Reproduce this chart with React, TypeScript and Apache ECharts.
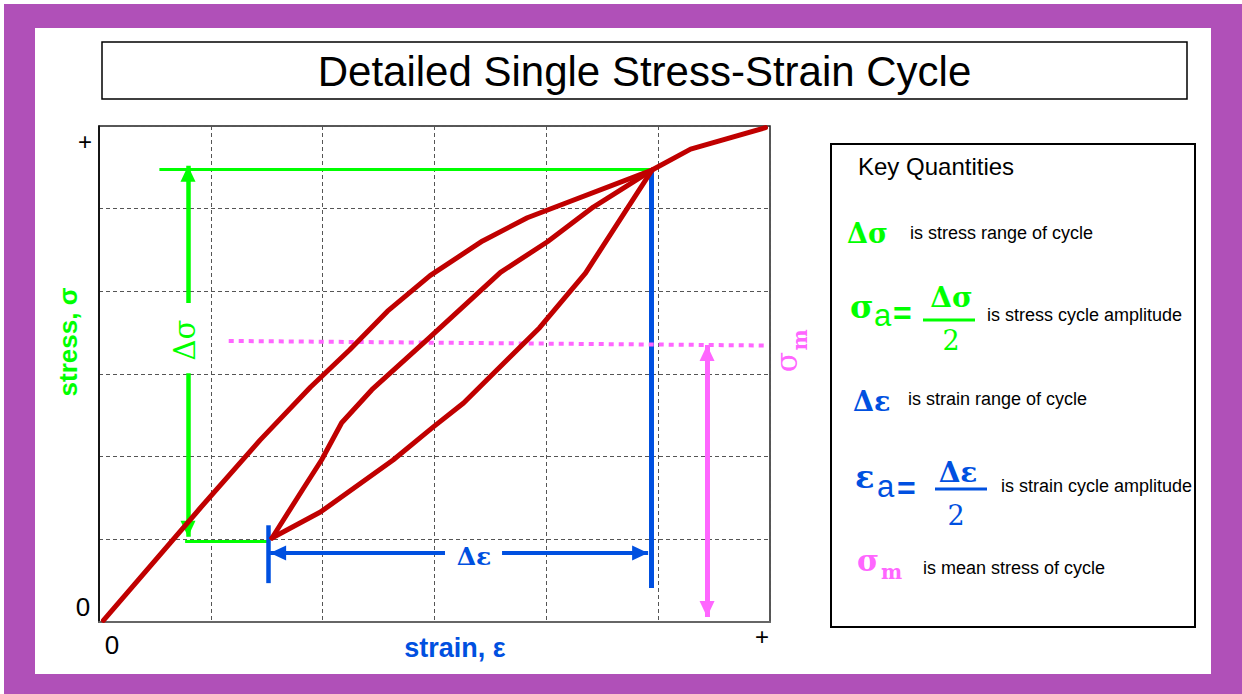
import React, { useEffect, useRef } from 'react';
import * as echarts from 'echarts';

const RED = '#C00000';
const GREEN = '#00FF00';
const BLUE = '#0050E0';
const PINK = '#FF66FF';
const PURPLE = '#B050B8';
const SANS = '"Liberation Sans", Arial, sans-serif';
const SERIF = '"DejaVu Serif", "Liberation Serif", serif';

const title = 'Detailed Single Stress-Strain Cycle';
const xAxisName = 'strain, ε';
const yAxisName = 'stress, σ';
const xTickLabels = ['0', '+'];
const yTickLabels = ['0', '+'];
const axisMin = 0;
const axisMax = 6;
const axisStep = 1;

// monotonic loading curve (strain, stress)
const loadingStrain = [0.04, 0.9, 1.44, 1.89, 2.24, 2.58, 2.96, 3.43, 3.83, 4.945, 5.29, 5.96];
const loadingStress = [0.02, 1.37, 2.2, 2.84, 3.29, 3.76, 4.19, 4.61, 4.89, 5.467, 5.72, 5.98];
// unloading branch: peak -> valley
const unloadStrain = [4.945, 4.35, 3.94, 3.26, 2.99, 2.63, 1.98, 1.547];
const unloadStress = [5.467, 4.22, 3.56, 2.65, 2.36, 1.96, 1.33, 1.016];
// reloading branch: valley -> peak
const reloadStrain = [1.547, 1.82, 1.99, 2.17, 2.44, 2.93, 3.59, 4.01, 4.42, 4.945];
const reloadStress = [1.016, 1.6, 1.96, 2.41, 2.81, 3.41, 4.23, 4.6, 5.02, 5.467];

// annotation geometry (data units)
const stressLevels = [5.475, 0.98]; // peak / valley stress guide lines
const stressGuideStrain = [0.54, 4.945, 0.77, 1.53];
const stressArrowStrain = 0.796;
const stressArrowTips = [5.52, 1.03];
const stressArrowGap = [3.86, 3.01];
const strainBarStrain = [1.51, 4.936];
const strainBarStress = [0.47, 1.17, 0.41, 5.467];
const strainArrowStress = 0.835;
const strainArrowTips = [1.53, 4.91];
const strainArrowGap = [3.094, 3.604];
const meanLineStrain = [1.16, 5.96];
const meanLineStress = [3.4, 3.345];
const meanArrowStrain = 5.437;
const meanArrowStress = [3.35, 0.06];

const keyTitle = 'Key Quantities';
const keyTexts = [
  'is stress range of cycle',
  'is stress cycle amplitude',
  'is strain range of cycle',
  'is strain cycle amplitude',
  'is mean stress of cycle',
];

function txt(text: string, x: number, y: number, font: string, fill: string, align = 'left', rotation = 0) {
  return {
    type: 'text', x, y, rotation, z: 100, silent: true,
    style: { text, font, fill, textAlign: align, textVerticalAlign: 'middle' },
  };
}

function seg(x1: number, y1: number, x2: number, y2: number, color: string, width: number, s1: string, s2: string, type: any = 'solid') {
  return [
    { coord: [x1, y1], symbol: s1, symbolSize: [15, 16], symbolOffset: [0, 8], lineStyle: { color, width, type, cap: 'butt' }, itemStyle: { color } },
    { coord: [x2, y2], symbol: s2, symbolSize: [15, 16], symbolOffset: [0, 8], itemStyle: { color } },
  ];
}

function curve(name: string, xs: number[], ys: number[]) {
  return {
    name, type: 'line', z: 5, silent: true, symbol: 'none',
    data: xs.map((x, i) => [x, ys[i]]),
    lineStyle: { color: RED, width: 5, join: 'round', cap: 'round' },
  };
}

export default function App() {
  const ref = useRef<HTMLDivElement>(null);
  useEffect(() => {
    if (!ref.current) return;
    const chart = echarts.init(ref.current, null, { renderer: 'svg' });
    const annotations = [
      seg(stressGuideStrain[0], stressLevels[0], stressGuideStrain[1], stressLevels[0], GREEN, 3, 'none', 'none'),
      seg(stressGuideStrain[2], stressLevels[1], stressGuideStrain[3], stressLevels[1], GREEN, 3, 'none', 'none'),
      seg(stressArrowStrain, stressArrowGap[0], stressArrowStrain, stressArrowTips[0], GREEN, 4.5, 'none', 'triangle'),
      seg(stressArrowStrain, stressArrowGap[1], stressArrowStrain, stressArrowTips[1], GREEN, 4.5, 'none', 'triangle'),
      seg(strainBarStrain[0], strainBarStress[0], strainBarStrain[0], strainBarStress[1], BLUE, 4.5, 'none', 'none'),
      seg(strainBarStrain[1], strainBarStress[2], strainBarStrain[1], strainBarStress[3], BLUE, 5, 'none', 'none'),
      seg(strainArrowGap[0], strainArrowStress, strainArrowTips[0], strainArrowStress, BLUE, 4, 'none', 'triangle'),
      seg(strainArrowGap[1], strainArrowStress, strainArrowTips[1], strainArrowStress, BLUE, 4, 'none', 'triangle'),
      seg(meanLineStrain[0], meanLineStress[0], meanLineStrain[1], meanLineStress[1], PINK, 4, 'none', 'none', [5, 5]),
      seg(meanArrowStrain, meanArrowStress[0], meanArrowStrain, meanArrowStress[1], PINK, 5, 'triangle', 'triangle'),
    ];
    const graphic: any[] = [
      { type: 'rect', z: -20, silent: true, shape: { x: 4, y: 4, width: 1238, height: 690 }, style: { fill: PURPLE } },
      { type: 'rect', z: -19, silent: true, shape: { x: 35, y: 28, width: 1176, height: 646 }, style: { fill: '#fff' } },
      { type: 'rect', z: 90, silent: true, shape: { x: 102, y: 42, width: 1085, height: 57 }, style: { fill: '#fff', stroke: '#000', lineWidth: 1.5 } },
      txt(title, 644.5, 71, `42px ${SANS}`, '#000', 'center'),
      // ticks
      txt(yTickLabels[1], 85, 141, `24px ${SANS}`, '#000', 'center'),
      txt(yTickLabels[0], 83, 607, `26px ${SANS}`, '#000', 'center'),
      txt(xTickLabels[0], 112, 645, `26px ${SANS}`, '#000', 'center'),
      txt(xTickLabels[1], 762, 636, `24px ${SANS}`, '#000', 'center'),
      // axis names
      txt(yAxisName, 68, 342, `bold 26px ${SANS}`, GREEN, 'center', Math.PI / 2),
      txt(xAxisName, 455, 648, `bold 27px ${SANS}`, BLUE, 'center'),
      // in-plot labels
      txt('Δσ', 185, 340, `29px ${SERIF}`, GREEN, 'center', Math.PI / 2),
      txt('Δε', 474, 556, `bold 25px ${SERIF}`, BLUE, 'center'),
      txt('σ', 786, 362, `30px ${SERIF}`, PINK, 'center', Math.PI / 2),
      txt('m', 800, 340, `bold 20px ${SERIF}`, PINK, 'center', Math.PI / 2),
      // key box
      { type: 'rect', z: 90, silent: true, shape: { x: 831, y: 144, width: 364, height: 483 }, style: { fill: '#fff', stroke: '#000', lineWidth: 2 } },
      txt(keyTitle, 858, 166, `24px ${SANS}`, '#000'),
      txt('Δσ', 847, 233, `bold 27px ${SERIF}`, GREEN),
      txt(keyTexts[0], 910, 233, `18px ${SANS}`, '#000'),
      txt('σ', 850, 307, `bold 32px ${SERIF}`, GREEN),
      txt('a', 874, 315, `31px ${SANS}`, GREEN),
      txt('=', 893, 313, `bold 32px ${SANS}`, GREEN),
      txt('Δσ', 951.5, 297, `bold 28px ${SERIF}`, GREEN, 'center'),
      { type: 'rect', z: 100, silent: true, shape: { x: 923, y: 318.5, width: 52, height: 3 }, style: { fill: GREEN } },
      txt('2', 951, 340, `27px ${SERIF}`, GREEN, 'center'),
      txt(keyTexts[1], 987, 315, `18px ${SANS}`, '#000'),
      txt('Δε', 853, 401, `bold 27px ${SERIF}`, BLUE),
      txt(keyTexts[2], 908, 399, `18px ${SANS}`, '#000'),
      txt('ε', 855, 477, `bold 32px ${SERIF}`, BLUE),
      txt('a', 877, 486, `31px ${SANS}`, BLUE),
      txt('=', 897, 488, `bold 32px ${SANS}`, BLUE),
      txt('Δε', 958, 472, `bold 28px ${SERIF}`, BLUE, 'center'),
      { type: 'rect', z: 100, silent: true, shape: { x: 935, y: 487.5, width: 52, height: 3 }, style: { fill: BLUE } },
      txt('2', 956, 515, `27px ${SERIF}`, BLUE, 'center'),
      txt(keyTexts[3], 1001, 486, `18px ${SANS}`, '#000'),
      txt('σ', 857, 560, `bold 30px ${SERIF}`, PINK),
      txt('m', 881, 572, `bold 20px ${SERIF}`, PINK),
      txt(keyTexts[4], 923, 568, `18px ${SANS}`, '#000'),
    ];
    const axisCommon = {
      type: 'value', min: axisMin, max: axisMax, interval: axisStep,
      axisLabel: { show: false }, axisTick: { show: false },
      splitLine: { show: true, lineStyle: { type: [4, 3], color: '#555', width: 1 } },
    };
    chart.setOption({
      animation: false,
      backgroundColor: '#fff',
      grid: { left: 99, top: 126, width: 671, height: 496, show: true, borderColor: '#222', borderWidth: 1.5, outerBoundsMode: 'none', containLabel: false },
      xAxis: { ...axisCommon, axisLine: { show: true, lineStyle: { color: '#666', width: 2 } } },
      yAxis: { ...axisCommon, axisLine: { show: true, lineStyle: { color: '#000', width: 1.5 } } },
      series: [
        {
          type: 'line', data: [], z: 3, silent: true,
          markLine: { silent: true, animation: false, label: { show: false }, emphasis: { disabled: true }, symbol: ['none', 'none'], data: annotations },
        },
        curve('loading', loadingStrain, loadingStress),
        curve('unloading', unloadStrain, unloadStress),
        curve('reloading', reloadStrain, reloadStress),
      ],
      graphic,
    });
    return () => chart.dispose();
  }, []);
  return <div ref={ref} style={{ position: 'fixed', left: 0, top: 0, width: 1242, height: 694 }} />;
}
